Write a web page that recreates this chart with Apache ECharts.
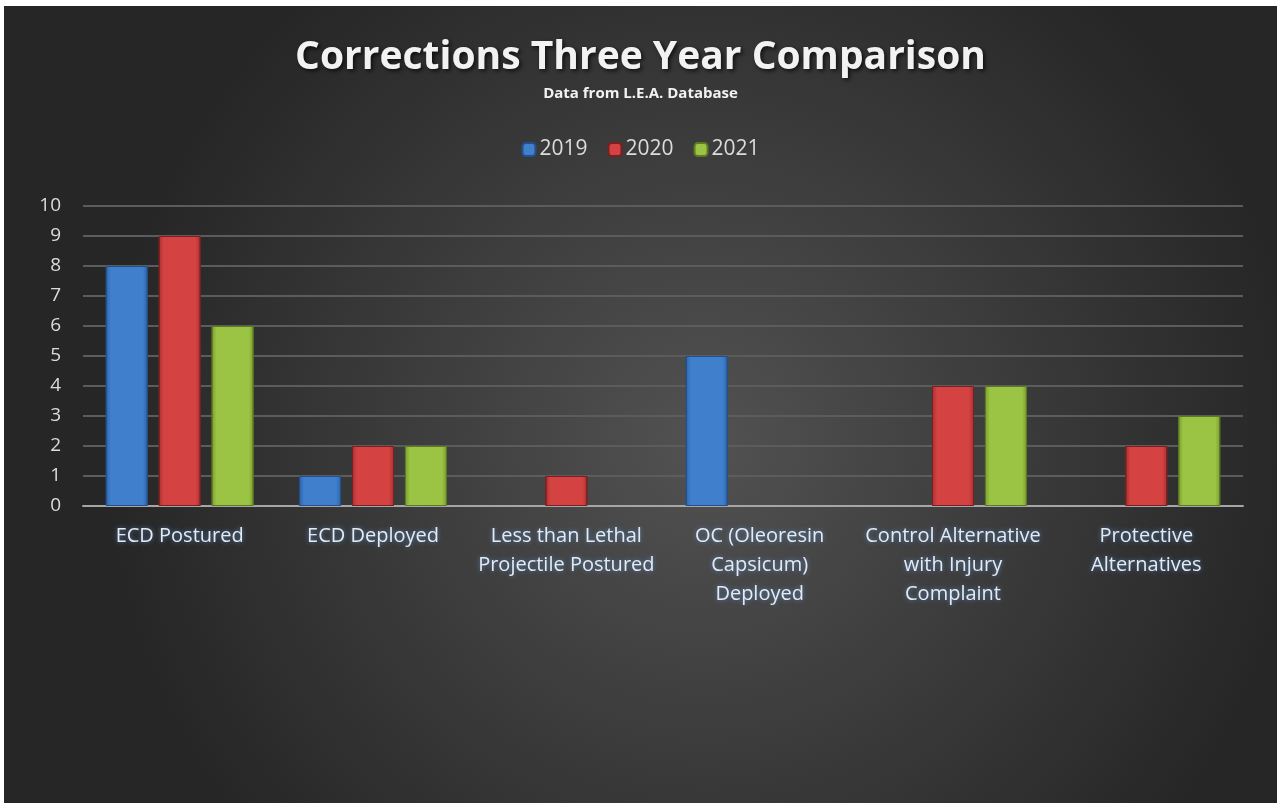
<!DOCTYPE html>
<html>
<head>
<meta charset="utf-8">
<script src="https://cdn.jsdelivr.net/npm/echarts@6/dist/echarts.min.js"></script>
<style>
html,body{margin:0;padding:0;background:#fff;width:1277px;height:803px;overflow:hidden;}
#chart{position:absolute;left:4px;top:6px;width:1273px;height:797px;}
</style>
</head>
<body>
<div id="chart"></div>
<script>
const categories = ["ECD Postured","ECD Deployed","Less than Lethal Projectile Postured","OC (Oleoresin Capsicum) Deployed","Control Alternative with Injury Complaint","Protective Alternatives"];
const tickLabels = ["ECD Postured","ECD Deployed","Less than Lethal\nProjectile Postured","OC (Oleoresin\nCapsicum)\nDeployed","Control Alternative\nwith Injury\nComplaint","Protective\nAlternatives"];
const seriesNames = ["2019","2020","2021"];
const values2019 = [8,1,0,5,0,0];
const values2020 = [9,2,1,0,4,2];
const values2021 = [6,2,0,0,4,3];
const yTicks = [0,1,2,3,4,5,6,7,8,9,10];

const palettes = [
  {mid:'#3f7fcc', edge:'#2f64a8', border:'#24508a'},
  {mid:'#d44242', edge:'#a83030', border:'#7a2020'},
  {mid:'#9cc444', edge:'#7a9e30', border:'#5d7a22'}
];
function grad(p){
  return {type:'linear',x:0,y:0,x2:1,y2:0,colorStops:[
    {offset:0,color:p.edge},{offset:0.12,color:p.mid},{offset:0.88,color:p.mid},{offset:1,color:p.edge}]};
}
const chart = echarts.init(document.getElementById('chart'));
const allValues=[values2019,values2020,values2021];
chart.setOption({
  backgroundColor:{type:'radial',x:0.55,y:0.55,r:0.75,colorStops:[{offset:0,color:'#525252'},{offset:1,color:'#262626'}]},
  title:{
    text:'Corrections Three Year Comparison',
    subtext:'Data from L.E.A. Database',
    left:'center', top:27, itemGap:9,
    textStyle:{fontFamily:'Open Sans',fontWeight:'bold',fontSize:39,color:'#f2f2f2',textShadowColor:'rgba(0,0,0,0.7)',textShadowBlur:4,textShadowOffsetX:2,textShadowOffsetY:2},
    subtextStyle:{fontFamily:'Open Sans',fontWeight:'bold',fontSize:15,color:'#f2f2f2'}
  },
  legend:{
    data:seriesNames, top:128, left:'center', itemWidth:13, itemHeight:13, itemGap:20,
    textStyle:{fontFamily:'Open Sans',fontSize:21,color:'#dcdcdc',padding:[0,0,0,-1]}
  },
  grid:{left:79,right:34,top:200,bottom:297,containLabel:false},
  xAxis:{
    type:'category', data:categories,
    axisLine:{lineStyle:{color:'#a6a6a6',width:2}},
    axisTick:{show:false},
    axisLabel:{interval:0,margin:16,fontFamily:'Open Sans',fontSize:20,lineHeight:29,color:'#e4eaf2',
      textShadowColor:'rgba(90,140,200,0.9)',textShadowBlur:5,
      formatter:(v,i)=>tickLabels[i]}
  },
  yAxis:{
    type:'value', min:0, max:10, interval:1,
    axisLine:{show:false}, axisTick:{show:false},
    axisLabel:{margin:22,fontFamily:'Open Sans',fontSize:19,color:'#dcdcdc',formatter:v=>yTicks.includes(v)?String(v):''},
    splitLine:{lineStyle:{color:'#5c5c5c',width:2}}
  },
  series:seriesNames.map((n,k)=>({
    name:n,type:'bar',barWidth:42,barGap:'26%',
    data:allValues[k].map(v=>v===0?{value:v,itemStyle:{borderWidth:0}}:v),
    itemStyle:{color:grad(palettes[k]),borderColor:palettes[k].border,borderWidth:1}
  }))
});
</script>
</body>
</html>
